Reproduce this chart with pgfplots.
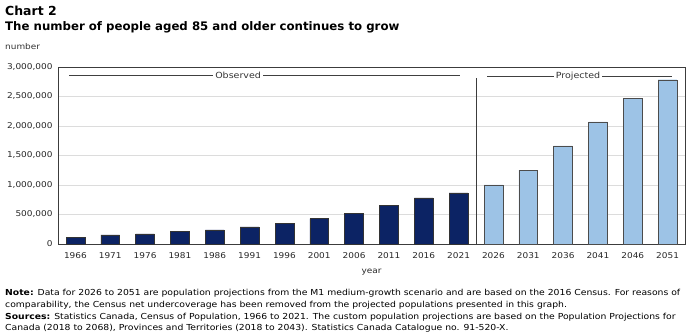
\documentclass[border=0pt]{standalone}
\usepackage{pgfplots}
\pgfplotsset{compat=1.18}
\usepackage{fontspec}
\setmainfont{DejaVu Sans}
\newfontfamily\wf[FakeStretch=1.12]{DejaVu Sans}
\definecolor{navy}{RGB}{12,35,100}
\definecolor{lblue}{RGB}{157,195,230}
\definecolor{frame}{RGB}{60,60,60}
\definecolor{gridc}{RGB}{220,220,220}
\begin{document}
\begin{tikzpicture}
\useasboundingbox (0bp,0bp) rectangle (688bp,336bp);
\node[anchor=base west,inner sep=0,font=\bfseries\fontsize{12.5}{14}\selectfont] at (5bp,320bp) {Chart 2};
\node[anchor=base west,inner sep=0,font=\bfseries\fontsize{11.8}{14}\selectfont] at (5bp,305bp) {The number of people aged 85 and older continues to grow};
\node[anchor=base west,inner sep=0,font=\wf\fontsize{8}{10}\selectfont,text=black!80] at (5bp,286bp) {number};
\begin{axis}[
  at={(58bp,92bp)}, anchor=south west, scale only axis,
  width=627bp, height=177bp,
  xmin=-0.5, xmax=17.5, ymin=0, ymax=3000000,
  ytick={0,500000,1000000,1500000,2000000,2500000,3000000},
  xtick={0,...,17},
  xticklabels={1966,1971,1976,1981,1986,1991,1996,2001,2006,2011,2016,2021,2026,2031,2036,2041,2046,2051},
  scaled y ticks=false,
  yticklabel style={xshift=-2bp,/pgf/number format/.cd,fixed,1000 sep={,},assume math mode=true},
  ticklabel style={font=\wf\fontsize{8}{10}\selectfont,text=black!85},
  xticklabel style={yshift=-5bp},
  major tick length=0pt,
  ymajorgrids, grid style={gridc},
  axis line style={frame},
  tick style={draw=none},
  xlabel={year}, xlabel style={font=\wf\fontsize{8}{10}\selectfont,text=black!85,yshift=-4bp},
  ybar, bar width=0.54, bar shift=0pt,
  clip=false,
]
\addplot[fill=navy,draw=black!80,line width=0.4pt] coordinates {
(0,113000)(1,153000)(2,170000)(3,209000)(4,238000)(5,289000)(6,345000)(7,430000)(8,521000)(9,657000)(10,781000)(11,866000)};
\addplot[fill=lblue,draw=black!70,line width=0.4pt] coordinates {
(12,1002000)(13,1251000)(14,1664000)(15,2071000)(16,2473000)(17,2784000)};
\draw[frame,line width=0.5pt] (axis cs:11.5,0) -- (axis cs:11.5,2810000);
\draw[black!75,line width=0.5pt] (axis cs:-0.18,2855000) -- (axis cs:11.05,2855000);
\node[fill=white,inner sep=2pt,font=\wf\fontsize{8.5}{10}\selectfont,text=black!80] at (axis cs:4.67,2855000) {Observed};
\draw[black!75,line width=0.5pt] (axis cs:11.82,2840000) -- (axis cs:17.13,2840000);
\node[fill=white,inner sep=2pt,font=\wf\fontsize{8.5}{10}\selectfont,text=black!80] at (axis cs:14.43,2840000) {Projected};
\end{axis}
\begin{scope}[font=\wf\fontsize{8.3}{9}\selectfont]
\node[anchor=base west,inner sep=0] at (5bp,40bp) {\textbf{Note:} Data for 2026 to 2051 are population projections from the M1 medium-growth scenario and are based on the 2016 Census. For reasons of};
\node[anchor=base west,inner sep=0] at (5bp,28.5bp) {comparability, the Census net undercoverage has been removed from the projected populations presented in this graph.};
\node[anchor=base west,inner sep=0] at (5bp,17bp) {\textbf{Sources:} Statistics Canada, Census of Population, 1966 to 2021. The custom population projections are based on the Population Projections for};
\node[anchor=base west,inner sep=0] at (5bp,5.5bp) {Canada (2018 to 2068), Provinces and Territories (2018 to 2043). Statistics Canada Catalogue no. 91-520-X.};
\end{scope}
\end{tikzpicture}
\end{document}
